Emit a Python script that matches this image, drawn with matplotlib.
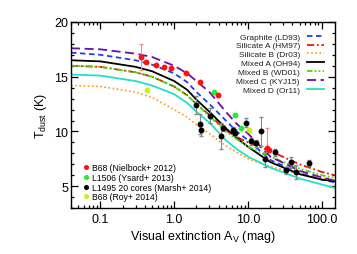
import matplotlib.pyplot as plt
import numpy as np

plt.rcParams['font.family'] = ['Liberation Sans', 'DejaVu Sans']
plt.rcParams['mathtext.fontset'] = 'custom'
plt.rcParams['mathtext.rm'] = 'Liberation Sans'
plt.rcParams['mathtext.it'] = 'Liberation Sans'

# model curves: T_dust vs A_V
av_grid = [0.04, 0.1, 0.3, 0.5, 1, 1.5, 2, 3, 5, 7, 10, 20, 50, 100, 150]
t_graphite = [17.2, 17.0, 16.5, 16.1, 15.3, 14.5, 13.6, 12.5, 11.0, 10.0, 9.2, 7.4, 6.2, 5.6, 5.35]
t_silA = [16.0, 15.9, 15.4, 15.0, 14.1, 13.3, 12.5, 11.5, 10.1, 9.5, 9.0, 8.2, 7.0, 6.3, 6.0]
t_silB = [14.2, 14.1, 13.6, 13.1, 12.0, 11.3, 10.6, 9.8, 8.7, 8.1, 7.5, 6.8, 6.1, 5.7, 5.5]
t_mixA = [16.5, 16.4, 15.9, 15.5, 14.6, 13.8, 12.9, 11.8, 10.3, 9.4, 8.6, 7.2, 6.1, 5.6, 5.45]
t_mixB = [16.0, 15.9, 15.4, 15.0, 14.1, 13.3, 12.5, 11.4, 10.0, 9.3, 8.6, 7.7, 6.6, 6.0, 5.75]
t_mixC = [17.6, 17.5, 17.1, 16.8, 16.0, 15.3, 14.6, 13.6, 11.8, 10.7, 9.8, 7.7, 6.4, 5.8, 5.5]
t_mixD = [15.2, 15.1, 14.6, 14.2, 13.4, 12.6, 11.8, 10.8, 9.2, 8.4, 7.7, 6.7, 5.7, 5.15, 4.85]

# observations
nb_av = [0.35, 0.42, 0.57, 0.73, 0.91, 1.45, 2.2, 3.9, 18.0, 19.5]
nb_t = [16.8, 16.3, 16.1, 15.9, 15.8, 15.3, 14.5, 13.3, 8.5, 8.3]
nb_lo = [1.2, 0, 0, 0, 0, 0, 0, 0, 0.2, 0]
nb_hi = [1.2, 0, 0, 0, 0, 0, 0, 0, 1.8, 0]

ys_av = [3.5, 6.7, 8.0]
ys_t = [13.6, 11.5, 10.3]

ma_av = [1.98, 3.07, 2.25, 2.32, 4.3, 4.6, 6.3, 6.7, 9.4, 11.0, 12.8, 15.0, 16.9, 23.1, 32.6, 38.2, 44.5, 66.7]
ma_t = [12.4, 11.45, 10.7, 10.1, 9.6, 10.3, 10.1, 9.9, 10.8, 9.1, 8.9, 10.0, 7.45, 8.1, 6.45, 7.2, 6.3, 7.1]
ma_err = [0.8, 0.7, 0.9, 0.5, 1.2, 0.3, 0.3, 0.3, 0.4, 0.3, 0.3, 1.35, 0.7, 0.3, 0.3, 0.5, 0.6, 0.3]

roy_av = [0.43, 10.3]
roy_t = [13.8, 10.1]

fig = plt.figure(figsize=(3.57, 2.55), dpi=100)
ax = fig.add_axes([0.199, 0.18, 0.739, 0.73])

ax.plot(av_grid, t_graphite, color='#1f3fe8', ls=(0, (3, 2)), lw=1.3, label='Graphite (LD93)')
ax.plot(av_grid, t_silA, color='#ee1111', ls=(0, (4, 1.5, 1, 1.5)), lw=1.3, label='Silicate A (HM97)')
ax.plot(av_grid, t_silB, color='#ff9a1a', ls=(0, (1, 1.5)), lw=1.2, label='Silicate B (Dr03)')
ax.plot(av_grid, t_mixA, color='black', ls='-', lw=1.3, label='Mixed A (OH94)')
ax.plot(av_grid, t_mixB, color='#44dd00', ls=(0, (3, 1.2, 1, 1.2, 1, 1.2)), lw=1.3, label='Mixed B (WD01)')
ax.plot(av_grid, t_mixC, color='#6a0fa8', ls=(0, (5, 2.5)), lw=1.3, label='Mixed C (KYJ15)')
ax.plot(av_grid, t_mixD, color='#22e0c8', ls='-', lw=1.3, label='Mixed D (Or11)')

leg1 = ax.legend(loc='upper right', fontsize=6.0, frameon=False, markerfirst=False,
                 handlelength=2.1, labelspacing=0.12, borderaxespad=0.9, handletextpad=0.8)
for t in leg1.get_texts():
    t.set_color('#222222')
ax.add_artist(leg1)

ax.errorbar(ma_av, ma_t, yerr=ma_err, fmt='o', color='black', ms=3.2, ecolor='#888888',
            elinewidth=0.8, capsize=1.5, zorder=5)
ax.errorbar(nb_av, nb_t, yerr=[nb_lo, nb_hi], fmt='o', color='#ff1111', ms=3.2,
            ecolor='#ff8888', elinewidth=0.8, capsize=1.5, zorder=6)
ax.plot(ys_av, ys_t, 'o', color='#22ee33', ms=3.2, zorder=6)
ax.plot(roy_av, roy_t, 'o', color='#c8f020', ms=3.2, zorder=6)

h = [plt.Line2D([], [], ls='', marker='o', ms=2.6, color=c)
     for c in ['#ff1111', '#22ee33', 'black', '#c8f020']]
leg2 = ax.legend(h, ['B68 (Nielbock+ 2012)', 'L1506 (Ysard+ 2013)',
                     'L1495 20 cores (Marsh+ 2014)', 'B68 (Roy+ 2014)'],
                 loc='lower left', bbox_to_anchor=(0.02, 0.0), fontsize=6.2, frameon=False,
                 handlelength=0.6, labelspacing=0.08, handletextpad=0.4, borderaxespad=0.4)

ax.set_xscale('log')
ax.set_xlim(0.04, 150)
ax.set_ylim(3, 20)
ax.set_xticks([0.1, 1, 10, 100], ['0.1', '1.0', '10.0', '100.0'])
ax.set_yticks([5, 10, 15, 20])
ax.set_yticks(np.arange(3, 21, 1), minor=True)
ax.tick_params(which='both', direction='in', top=True, right=True, width=0.9)
ax.tick_params(which='major', length=5, labelsize=9)
ax.tick_params(which='minor', length=2.5)
ax.tick_params(axis='y', which='major', pad=2)
for s in ax.spines.values():
    s.set_linewidth(1.0)

ax.set_xlabel(r'Visual extinction A$_{\mathrm{V}}$ (mag)', fontsize=9, labelpad=2)
ax.set_ylabel(r'T$_{\mathrm{dust}}$ (K)', fontsize=9, labelpad=4)

fig.savefig('out.png', dpi=100)
